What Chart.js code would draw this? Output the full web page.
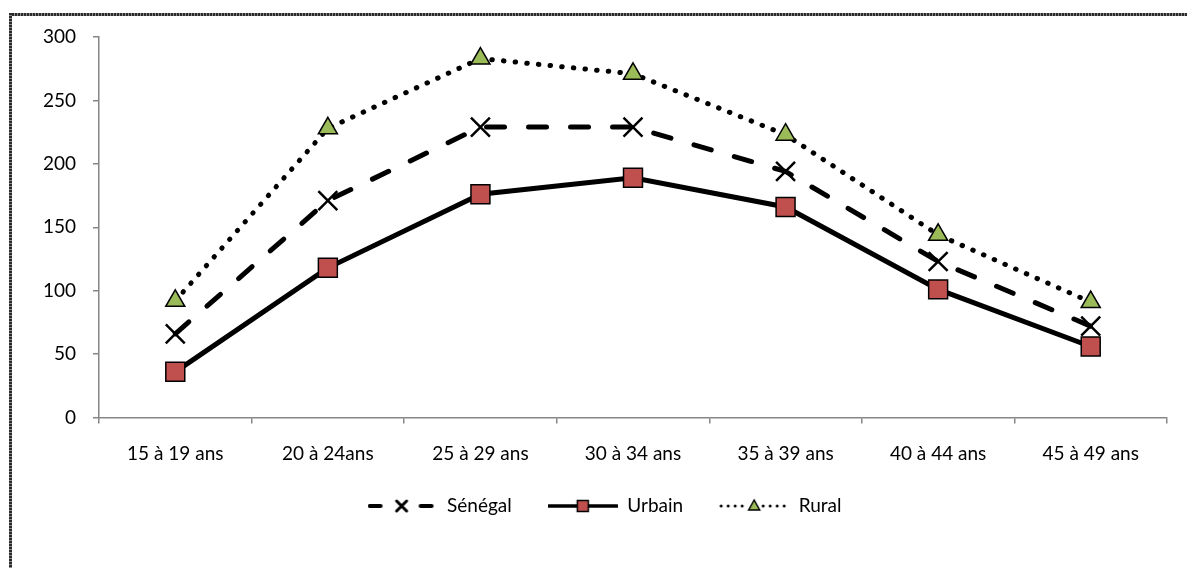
<!DOCTYPE html>
<html lang="fr">
<head>
    <meta charset="UTF-8">
    <title>Fécondité par groupe d'âge</title>
    <script src="https://cdn.jsdelivr.net/npm/chart.js"></script>
    <style>
        body {
            margin: 0;
            background: #fff;
            overflow: hidden;
        }
        .edge-top, .edge-left {
            position: absolute;
            left: 9px;
            top: 13px;
        }
        .edge-top {
            width: 1200px;
            height: 3px;
            background: repeating-linear-gradient(90deg, #2a2a2a 0 2px, #8c8c8c 2px 3px);
        }
        .edge-left {
            width: 3px;
            height: 600px;
            background: repeating-linear-gradient(180deg, #2a2a2a 0 2px, #8c8c8c 2px 3px);
        }
        .wrap {
            position: absolute;
            left: 0;
            top: 0;
            width: 1187px;
            height: 568px;
        }
    </style>
</head>
<body>
    <div class="edge-top"></div>
    <div class="edge-left"></div>
    <div class="wrap"><canvas id="chart"></canvas></div>

    <script>
        const ageGroups = ["15 à 19 ans", "20 à 24ans", "25 à 29 ans", "30 à 34 ans", "35 à 39 ans", "40 à 44 ans", "45 à 49 ans"];
        const senegal = [66, 171, 229, 229, 194, 123, 72];
        const urbain = [36, 118, 176, 189, 166, 101, 56];
        const rural = [92, 228, 283, 271, 223, 144, 91];
        const yMin = 0, yMax = 300, yStep = 50;

        const FONT = { family: "Lato, 'Open Sans', sans-serif", size: 19 };

        // small pictures used as legend samples: line with the marker in the middle
        function legendSample(kind) {
            let c = document.createElement("canvas");
            c.width = 70;
            c.height = 20;
            let g = c.getContext("2d");
            let cy = 10;
            g.strokeStyle = "#000";
            g.lineCap = "round";
            if (kind === "senegal") {
                g.lineWidth = 4;
                g.beginPath();
                g.moveTo(2, cy); g.lineTo(13, cy);
                g.moveTo(53, cy); g.lineTo(64, cy);
                g.stroke();
                g.lineWidth = 3;
                g.beginPath();
                g.moveTo(29, cy - 5); g.lineTo(39, cy + 5);
                g.moveTo(39, cy - 5); g.lineTo(29, cy + 5);
                g.stroke();
            } else if (kind === "urbain") {
                g.lineWidth = 3.5;
                g.beginPath();
                g.moveTo(1, cy); g.lineTo(69, cy);
                g.stroke();
                g.fillStyle = "#C0504D";
                g.lineWidth = 1.5;
                g.fillRect(29.5, cy - 5.5, 11, 11);
                g.strokeRect(29.5, cy - 5.5, 11, 11);
            } else {
                g.fillStyle = "#000";
                for (let x = 2; x < 70; x += 7) {
                    if (x > 26 && x < 44) continue;
                    g.beginPath();
                    g.arc(x, cy, 1.5, 0, Math.PI * 2);
                    g.fill();
                }
                g.fillStyle = "#9BBB59";
                g.lineWidth = 1.5;
                g.beginPath();
                g.moveTo(35, cy - 6);
                g.lineTo(40.5, cy + 4);
                g.lineTo(29.5, cy + 4);
                g.closePath();
                g.fill();
                g.stroke();
            }
            return c;
        }

        const samples = {
            "Sénégal": legendSample("senegal"),
            "Urbain": legendSample("urbain"),
            "Rural": legendSample("rural")
        };

        let ctx = document.getElementById("chart").getContext("2d");
        new Chart(ctx, {
            type: "line",
            data: {
                labels: ageGroups,
                datasets: [
                    {
                        label: "Sénégal", data: senegal,
                        borderColor: "#000", borderWidth: 5, borderDash: [18, 24], borderCapStyle: "round",
                        pointStyle: "crossRot", pointRadius: 13.4, pointBorderWidth: 2.5,
                        pointBorderColor: "#000", pointBackgroundColor: "#000", tension: 0, fill: false
                    },
                    {
                        label: "Urbain", data: urbain,
                        borderColor: "#000", borderWidth: 5,
                        pointStyle: "rect", pointRadius: 13.4, pointBorderWidth: 1.5,
                        pointBorderColor: "#000", pointBackgroundColor: "#C0504D", tension: 0, fill: false
                    },
                    {
                        label: "Rural", data: rural,
                        borderColor: "#000", borderWidth: 5, borderDash: [0.5, 11.2], borderCapStyle: "round",
                        pointStyle: "triangle", pointRadius: 11, pointBorderWidth: 1.5,
                        pointBorderColor: "#000", pointBackgroundColor: "#9BBB59", tension: 0, fill: false
                    }
                ]
            },
            options: {
                responsive: true,
                maintainAspectRatio: false,
                animation: false,
                layout: { padding: { left: 42, right: 20, top: 37, bottom: 42.5 } },
                plugins: {
                    title: { display: false },
                    tooltip: { enabled: false },
                    legend: {
                        position: "bottom",
                        labels: {
                            usePointStyle: true,
                            pointStyleWidth: 70,
                            padding: 36,
                            color: "#000",
                            font: FONT,
                            generateLabels: chart => chart.data.datasets.map((ds, i) => ({
                                text: ds.label,
                                pointStyle: samples[ds.label],
                                datasetIndex: i,
                                fontColor: "#000",
                                lineWidth: 0,
                                hidden: false
                            }))
                        }
                    }
                },
                scales: {
                    x: {
                        offset: true,
                        grid: { offset: true, drawOnChartArea: false, drawTicks: true, tickLength: 6, color: "#868686", lineWidth: 1.5 },
                        border: { color: "#868686", width: 1.5 },
                        ticks: { color: "#000", font: FONT, padding: 19, maxRotation: 0, autoSkip: false },
                        afterFit: scale => { scale.height = 43; }
                    },
                    y: {
                        min: yMin,
                        max: yMax,
                        grid: { drawOnChartArea: false, drawTicks: true, tickLength: 6, color: "#868686", lineWidth: 1.5 },
                        border: { color: "#868686", width: 1.5 },
                        ticks: { stepSize: yStep, color: "#000", font: FONT, padding: 17 },
                        afterFit: scale => { scale.width = 57; }
                    }
                }
            }
        });
    </script>
</body>
</html>
